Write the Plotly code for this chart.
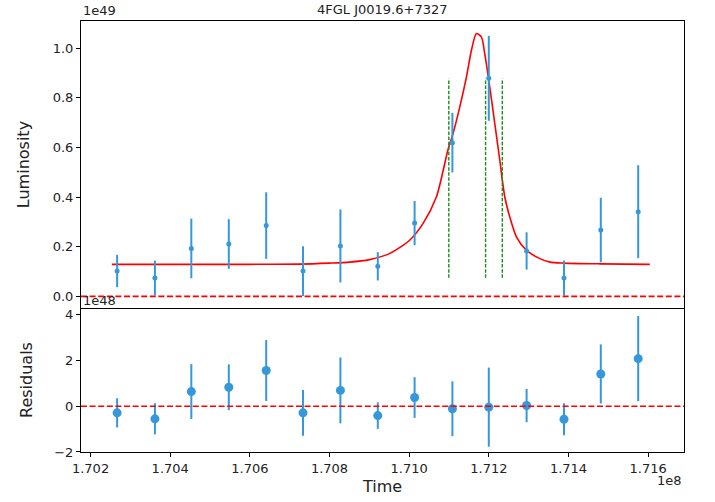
import plotly.graph_objects as go
from plotly.subplots import make_subplots

# Time in units of 1e8 s
time = [1.702667, 1.703616, 1.704530, 1.705471, 1.706410, 1.707334, 1.708273,
        1.709212, 1.710136, 1.711085, 1.711999, 1.712948, 1.713887, 1.714811, 1.715750]
# Luminosity in units of 1e49
lum = [0.102, 0.074, 0.193, 0.211, 0.285, 0.102, 0.203,
       0.121, 0.295, 0.619, 0.878, 0.183, 0.074, 0.267, 0.341]
lum_err = [0.065, 0.070, 0.120, 0.100, 0.134, 0.100, 0.147,
           0.057, 0.089, 0.120, 0.171, 0.075, 0.070, 0.130, 0.187]
# Residuals in units of 1e48
resid = [-0.29, -0.55, 0.64, 0.83, 1.56, -0.29, 0.69,
         -0.41, 0.38, -0.11, -0.04, 0.03, -0.57, 1.41, 2.08]
resid_err = [0.64, 0.68, 1.20, 1.00, 1.33, 1.00, 1.44,
             0.58, 0.89, 1.20, 1.73, 0.73, 0.70, 1.29, 1.86]

# Fitted flare model
fit_t = [1.702534, 1.703465, 1.704724, 1.705982, 1.707241, 1.707996, 1.708500,
         1.709003, 1.709506, 1.710010, 1.710345, 1.710682, 1.710974, 1.711100,
         1.711269, 1.711437, 1.711563, 1.711688, 1.711814, 1.711897, 1.712023,
         1.712149, 1.712275, 1.712401, 1.712527, 1.712695, 1.712948, 1.713282,
         1.713534, 1.713869, 1.714782, 1.716041]
fit_l = [0.129, 0.129, 0.129, 0.129, 0.130, 0.134, 0.138,
         0.148, 0.172, 0.226, 0.293, 0.400, 0.590, 0.655,
         0.762, 0.883, 0.991, 1.058, 1.044, 0.977, 0.843,
         0.696, 0.548, 0.400, 0.319, 0.239, 0.185, 0.152,
         0.138, 0.134, 0.131, 0.129]

green_times = [1.710995, 1.711918, 1.712338]
green_ymin, green_ymax = 0.075, 0.877

title = "4FGL J0019.6+7327"
x_ticks = [1.702, 1.704, 1.706, 1.708, 1.710, 1.712, 1.714, 1.716]
y1_ticks = [0.0, 0.2, 0.4, 0.6, 0.8, 1.0]
y2_ticks = [-2, 0, 2, 4]

BLUE = "#3498db"
FONT = "DejaVu Sans"
TXT = "#222"

fig = make_subplots(rows=2, cols=1, shared_xaxes=True, vertical_spacing=0,
                    row_heights=[0.666, 0.334])

fig.add_trace(go.Scatter(x=fit_t, y=fit_l, mode="lines",
                         line=dict(color="red", width=1.6, shape="spline", smoothing=0.7),
                         showlegend=False),
              row=1, col=1)
fig.add_trace(go.Scatter(x=time, y=lum, mode="markers",
                         marker=dict(color=BLUE, size=5),
                         error_y=dict(type="data", array=lum_err, color=BLUE,
                                      thickness=2, width=0),
                         showlegend=False), row=1, col=1)
fig.add_trace(go.Scatter(x=time, y=resid, mode="markers",
                         marker=dict(color=BLUE, size=9),
                         error_y=dict(type="data", array=resid_err, color=BLUE,
                                      thickness=2, width=0),
                         showlegend=False), row=2, col=1)

shapes = []
for yref in ["y", "y2"]:
    shapes.append(dict(type="line", xref="x domain", yref=yref, x0=0, x1=1, y0=0, y1=0,
                       line=dict(color="red", width=1.6, dash="6px,2.6px")))
for gt in green_times:
    shapes.append(dict(type="line", xref="x", yref="y", x0=gt, x1=gt,
                       y0=green_ymin, y1=green_ymax,
                       line=dict(color="#1a8c1a", width=1.4, dash="3.5px,1.6px")))

axis_common = dict(showline=True, linecolor="black", linewidth=1, mirror=True,
                   showgrid=False, zeroline=False, ticks="outside", ticklen=4,
                   automargin=False,
                   tickcolor="black", tickfont=dict(family=FONT, size=13, color=TXT))

fig.update_layout(
    width=715, height=502,
    margin=dict(l=81, r=31, t=21, b=50, autoexpand=False),
    paper_bgcolor="white", plot_bgcolor="white",
    font=dict(family=FONT, color=TXT),
    shapes=shapes,
    annotations=[
        dict(text=title, xref="paper", yref="paper", x=0.5, y=1, yshift=2,
             xanchor="center", yanchor="bottom", showarrow=False,
             font=dict(family=FONT, size=13, color=TXT)),
        dict(text="1e49", xref="paper", yref="paper", x=0, y=1, yshift=1,
             xanchor="left", yanchor="bottom", showarrow=False,
             font=dict(family=FONT, size=13, color=TXT)),
        dict(text="1e48", xref="paper", yref="paper", x=0, y=0.334, yshift=-2,
             xanchor="left", yanchor="bottom", showarrow=False,
             font=dict(family=FONT, size=13, color=TXT)),
        dict(text="1e8", xref="paper", yref="paper", x=1, y=0, yshift=-38,
             xanchor="right", yanchor="bottom", showarrow=False,
             font=dict(family=FONT, size=13, color=TXT)),
    ],
)

fig.update_xaxes(**axis_common)
fig.update_xaxes(range=[1.70176, 1.71690], tickvals=x_ticks,
                 ticktext=[f"{v:.3f}" for v in x_ticks])
fig.update_xaxes(ticks="", showticklabels=False, row=1, col=1)
fig.update_xaxes(mirror=False,
                 title=dict(text="Time", font=dict(family=FONT, size=16, color=TXT),
                            standoff=6), row=2, col=1)

fig.update_yaxes(**axis_common)
fig.update_yaxes(range=[-0.047, 1.1087], tickvals=y1_ticks,
                 ticktext=[f"{v:.1f}" for v in y1_ticks],
                 title=dict(text="Luminosity", font=dict(family=FONT, size=16, color=TXT),
                            standoff=19), row=1, col=1)
fig.update_yaxes(range=[-2, 4.29], tickvals=y2_ticks,
                 ticktext=[str(v).replace("-", "\u2212") for v in y2_ticks],
                 title=dict(text="Residuals", font=dict(family=FONT, size=16, color=TXT),
                            standoff=17), row=2, col=1)

fig.write_html("out.html")
